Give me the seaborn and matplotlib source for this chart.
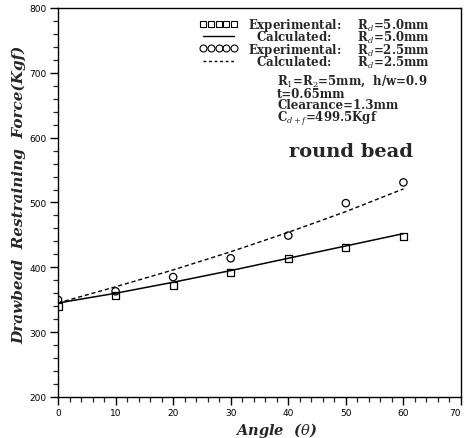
import matplotlib
matplotlib.use("Agg")
import matplotlib.pyplot as plt
import seaborn as sns
import pandas as pd
from matplotlib.lines import Line2D
from matplotlib.ticker import MultipleLocator
from matplotlib.font_manager import FontProperties

angles = [0, 10, 20, 30, 40, 50, 60]
exp_r50 = [340, 357, 372, 392, 414, 431, 447]
exp_r25 = [350, 363, 385, 414, 449, 499, 531]
calc_r50 = [345, 360, 377, 395, 414, 433, 452]
calc_r25 = [345, 370, 396, 424, 454, 486, 521]

x_ticks = [0, 10, 20, 30, 40, 50, 60, 70]
y_ticks = [200, 300, 400, 500, 600, 700, 800]

legend_names = ["Experimental:", "  Calculated:", "Experimental:", "  Calculated:"]
legend_params = [r"R$_d$=5.0mm", r"R$_d$=5.0mm", r"R$_d$=2.5mm", r"R$_d$=2.5mm"]
extra = [r"R$_1$=R$_2$=5mm,  h/w=0.9", "t=0.65mm", "Clearance=1.3mm",
         r"C$_{d+f}$=499.5Kgf"]

sns.set_theme(style="white")
plt.rcParams['font.family'] = ['DejaVu Sans']
plt.rcParams['mathtext.fontset'] = 'dejavuserif'

fig = plt.figure(figsize=(4.65, 4.39), dpi=100)
W, H = 465, 439
L, R, B, T = 58, 461, 398, 9
ax = fig.add_axes([L / W, (H - B) / H, (R - L) / W, (B - T) / H])

def ax_x(px):
    return (px - L) / (R - L)

def ax_y(py):
    return (B - py) / (B - T)

df = pd.DataFrame({"angle": angles, "e50": exp_r50, "e25": exp_r25,
                   "c50": calc_r50, "c25": calc_r25})

sns.lineplot(data=df, x="angle", y="c50", ax=ax, color="black", lw=1.1)
sns.lineplot(data=df, x="angle", y="c25", ax=ax, color="black", lw=1.0,
             linestyle=(0, (3, 2)))
sns.scatterplot(data=df, x="angle", y="e50", ax=ax, marker="s", s=26,
                facecolor="none", edgecolor="black", linewidth=0.9)
sns.scatterplot(data=df, x="angle", y="e25", ax=ax, marker="o", s=28,
                facecolor="none", edgecolor="black", linewidth=0.9)

ax.set_xlim(0, 70)
ax.set_ylim(200, 800)
ax.set_xticks(x_ticks)
ax.set_yticks(y_ticks)
ax.xaxis.set_minor_locator(MultipleLocator(2))
ax.yaxis.set_minor_locator(MultipleLocator(20))
ax.tick_params(axis="both", which="major", direction="out", length=6,
               width=1, labelsize=6.5, colors="black", pad=2)
ax.tick_params(axis="both", which="minor", direction="out", length=3.5,
               width=0.9)
ax.tick_params(bottom=True, left=True, which="both")
for s in ax.spines.values():
    s.set_color("black")
    s.set_linewidth(1.0)
ax.get_xticklabels()[-1].set_ha("right")

ax.set_xlabel(r"Angle  ($\theta$)", family="DejaVu Serif",
              fontweight="bold", fontstyle="italic", fontsize=10.5)
ax.xaxis.label.set_va("baseline")
ax.xaxis.set_label_coords(ax_x(276), ax_y(435))
ax.set_ylabel("Drawbead  Restraining  Force(Kgf)", family="DejaVu Serif",
              fontweight="bold", fontstyle="italic", fontsize=11)
ax.yaxis.label.set_va("center")
ax.yaxis.set_label_coords(ax_x(19), ax_y(195))

fsz = 8.5
fprops = {"family": "DejaVu Serif", "weight": "bold", "size": fsz}
fp = FontProperties(**fprops)

# pad the names so that the R_d column starts near x = 358 px
fig.canvas.draw()
renderer = fig.canvas.get_renderer()

def width(s):
    t = fig.text(0, 0, s + "|", fontproperties=fp)
    t2 = fig.text(0, 0, "|", fontproperties=fp)
    w = t.get_window_extent(renderer).width - t2.get_window_extent(renderer).width
    t.remove(); t2.remove()
    return w

text_start = 248
labels = []
for name, p in zip(legend_names, legend_params):
    best, best_err = name, 1e9
    for n in range(1, 30):
        for m in range(0, 4):
            cand = name + " " * n + "\u2009" * m
            err = abs(text_start + width(cand) - 358)
            if err < best_err:
                best, best_err = cand, err
    labels.append(best + p)

handles = [
    Line2D([], [], marker="s", ls="none", mfc="none", mec="black", ms=5, mew=0.8),
    Line2D([], [], color="black", lw=1.0),
    Line2D([], [], marker="o", ls="none", mfc="none", mec="black", ms=5, mew=0.8),
    Line2D([], [], color="black", lw=1.0, ls=(0, (2, 2))),
]
leg = ax.legend(handles, labels, loc="upper left",
                bbox_to_anchor=(ax_x(195), ax_y(12)),
                frameon=False, numpoints=5, handlelength=3.2, handletextpad=0.85,
                labelspacing=-0.35, borderaxespad=0, prop=fprops)

ax.text(ax_x(277), ax_y(74), "\n".join(extra), transform=ax.transAxes,
        ha="left", va="top", linespacing=0.84,
        family="DejaVu Serif", fontweight="bold", fontsize=fsz)

ax.text(ax_x(289), ax_y(152), "round bead", transform=ax.transAxes, ha="left",
        va="center", family="DejaVu Serif", fontweight="bold", fontsize=14)

fig.savefig("out.png", dpi=100)
